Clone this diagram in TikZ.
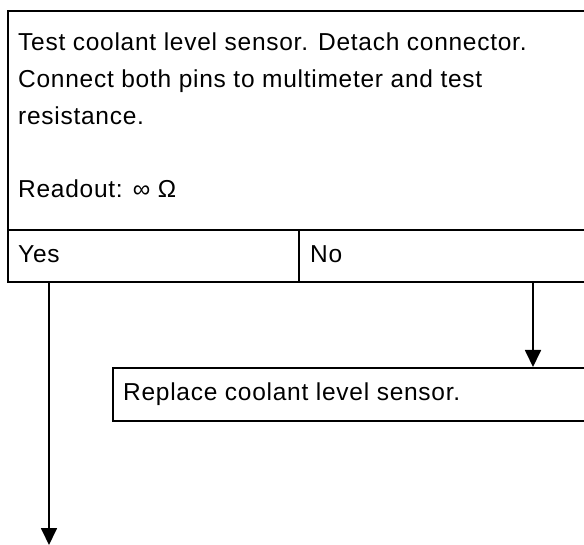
\documentclass[tikz,border=0pt]{standalone}
\usepackage{fontspec}
\setmainfont{Liberation Sans}[LetterSpace=3]
\usetikzlibrary{arrows.meta}
\begin{document}
\begin{tikzpicture}[x=1pt,y=-1pt,
  cell/.style={draw=black, line width=1.8pt, rectangle, inner sep=0pt, anchor=north west},
  txt/.style={anchor=base west, inner sep=0pt, font=\fontsize{24.5}{28}\selectfont},
  arr/.style={line width=1.8pt, -{Triangle[length=17pt,width=16pt]}}]
\useasboundingbox (0,0) rectangle (584,545);
\clip (0,0) rectangle (584,545);
\fill[white] (0,0) rectangle (584,545);
% question box
\node[cell, minimum width=600pt, minimum height=219pt] (q) at (7,10) {};
\node[cell, minimum width=291pt, minimum height=52pt] (yes) at (7,229) {};
\node[cell, minimum width=310pt, minimum height=52pt] (no) at (298,229) {};
\node[txt] (t1) at (18,51) {Test coolant level sensor. Detach connector.};
\node[txt] (t2) at (18,88) {Connect both pins to multimeter and test};
\node[txt] (t3) at (18,125) {resistance.};
\node[txt] (t4) at (18,198) {Readout: ∞ Ω};
\node[txt] (ly) at (18,263) {Yes};
\node[txt] (ln) at (310,263) {No};
% replace box
\node[cell, minimum width=500pt, minimum height=53pt] (rep) at (112,367) {};
\node[txt] (lr) at (123,401) {Replace coolant level sensor.};
% connectors
\coordinate (nox) at (533,0);
\coordinate (yesend) at (49,545);
\draw[arr] (no.south -| nox) -- (rep.north -| nox);
\draw[arr] (yes.south -| yesend) -- (yesend);
\end{tikzpicture}
\end{document}
